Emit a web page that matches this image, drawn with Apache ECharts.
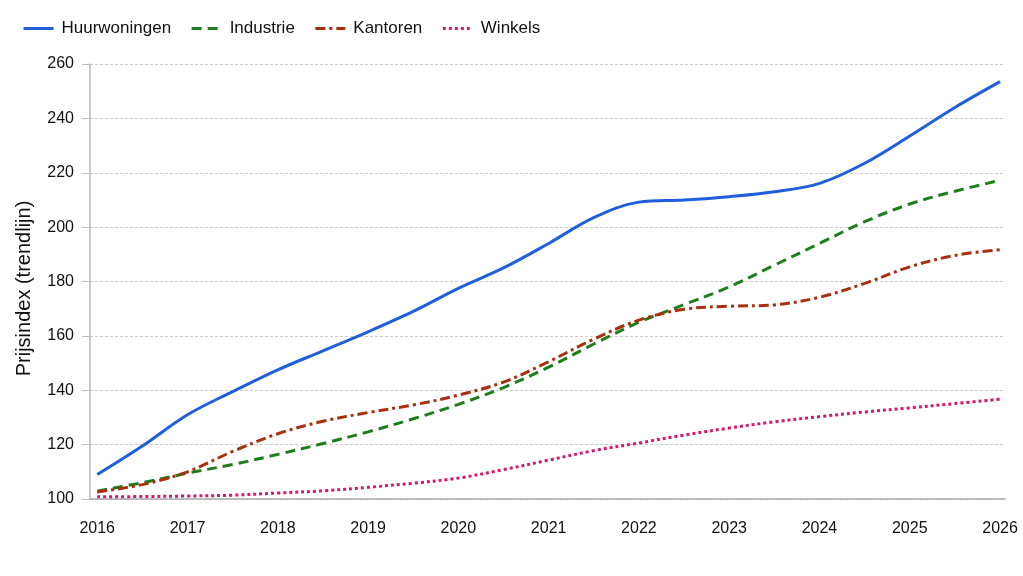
<!DOCTYPE html>
<meta charset="utf-8">
<style>
html, body { margin: 0; padding: 0; background: #fff; }
#main { width: 1023px; height: 576px; }
</style>
<div id="main"></div>
<script src="https://cdn.jsdelivr.net/npm/echarts@6/dist/echarts.min.js"></script>
<script>

var years = [2016, 2016.5, 2017, 2017.5, 2018, 2018.5, 2019, 2019.5, 2020, 2020.5, 2021,
             2021.5, 2022, 2022.5, 2023, 2023.5, 2024, 2024.5, 2025, 2025.5, 2026];
var yearTicks = [2016, 2017, 2018, 2019, 2020, 2021, 2022, 2023, 2024, 2025, 2026];

var huurwoningen = [109, 119.5, 131, 139.5, 147.5, 154.5, 161.5, 169, 177.5, 185, 194,
                    203.5, 209.2, 210, 211.2, 213, 216.1, 223.5, 233.5, 244, 253.5];
var industrie = [102.9, 106, 109.5, 112.7, 116.4, 120.4, 124.7, 129.5, 134.8, 141, 148.5,
                 157, 165, 171.5, 178, 186, 194, 202, 208.5, 213.2, 217.2];
var kantoren = [102.6, 105.3, 110, 117.5, 124, 128.6, 131.8, 134.6, 138.2, 143, 150.5,
                158.8, 165.8, 169.8, 170.9, 171.4, 174.2, 179.3, 185.4, 189.6, 191.7];
var winkels = [100.8, 100.9, 101.1, 101.4, 102.2, 103, 104.3, 105.8, 107.7, 110.8, 114.3,
               117.8, 120.6, 123.5, 126.1, 128.4, 130.3, 132, 133.5, 135.1, 136.7];

var font = 'Arial, "Liberation Sans", sans-serif';

function pairs(values) {
    return years.map(function (y, i) { return [y, values[i]]; });
}

function line(name, values, color, type) {
    return {
        name: name,
        type: 'line',
        data: pairs(values),
        smooth: 0.35,
        symbol: 'none',
        lineStyle: { color: color, width: 3, type: type },
        itemStyle: { color: color }
    };
}

var chart = echarts.init(document.getElementById('main'));

chart.setOption({
    animation: false,
    textStyle: { fontFamily: font },
    legend: {
        left: 17,
        top: 15,
        itemWidth: 30,
        itemHeight: 14,
        itemGap: 19,
        itemStyle: { opacity: 0 },
        lineStyle: { width: 3 },
        textStyle: { fontSize: 17, color: '#111', fontFamily: font, padding: [0, 0, 0, 3] }
    },
    grid: { left: 90, right: 18, top: 64, bottom: 77 },
    xAxis: {
        type: 'value',
        min: 2015.92,
        max: 2026.055,
        splitLine: { show: false },
        axisTick: { show: false },
        axisLine: { lineStyle: { color: '#aaa', width: 1.5 } },
        axisLabel: {
            customValues: yearTicks,
            formatter: function (v) { return String(v); },
            margin: 22,
            fontSize: 16,
            color: '#111',
            fontFamily: font
        }
    },
    yAxis: {
        type: 'value',
        min: 100,
        max: 260,
        interval: 20,
        name: 'Prijsindex (trendlijn)',
        nameLocation: 'middle',
        nameGap: 56,
        nameTextStyle: { fontSize: 20, color: '#111', fontFamily: font, padding: [0, 14, 0, 0] },
        axisLine: { show: true, lineStyle: { color: '#bbb', width: 1.5 } },
        axisTick: { show: true, length: 8, lineStyle: { color: '#bbb' } },
        axisLabel: { margin: 16, fontSize: 16, color: '#111', fontFamily: font },
        splitLine: { lineStyle: { color: '#ccc', type: [3, 2], width: 1 } }
    },
    series: [
        line('Huurwoningen', huurwoningen, '#1f5fdc', 'solid'),
        line('Industrie', industrie, '#1e7d1e', [10, 6]),
        line('Kantoren', kantoren, '#a8300f', [10, 4, 3, 4]),
        line('Winkels', winkels, '#d6176e', [3, 3])
    ]
});

</script>
